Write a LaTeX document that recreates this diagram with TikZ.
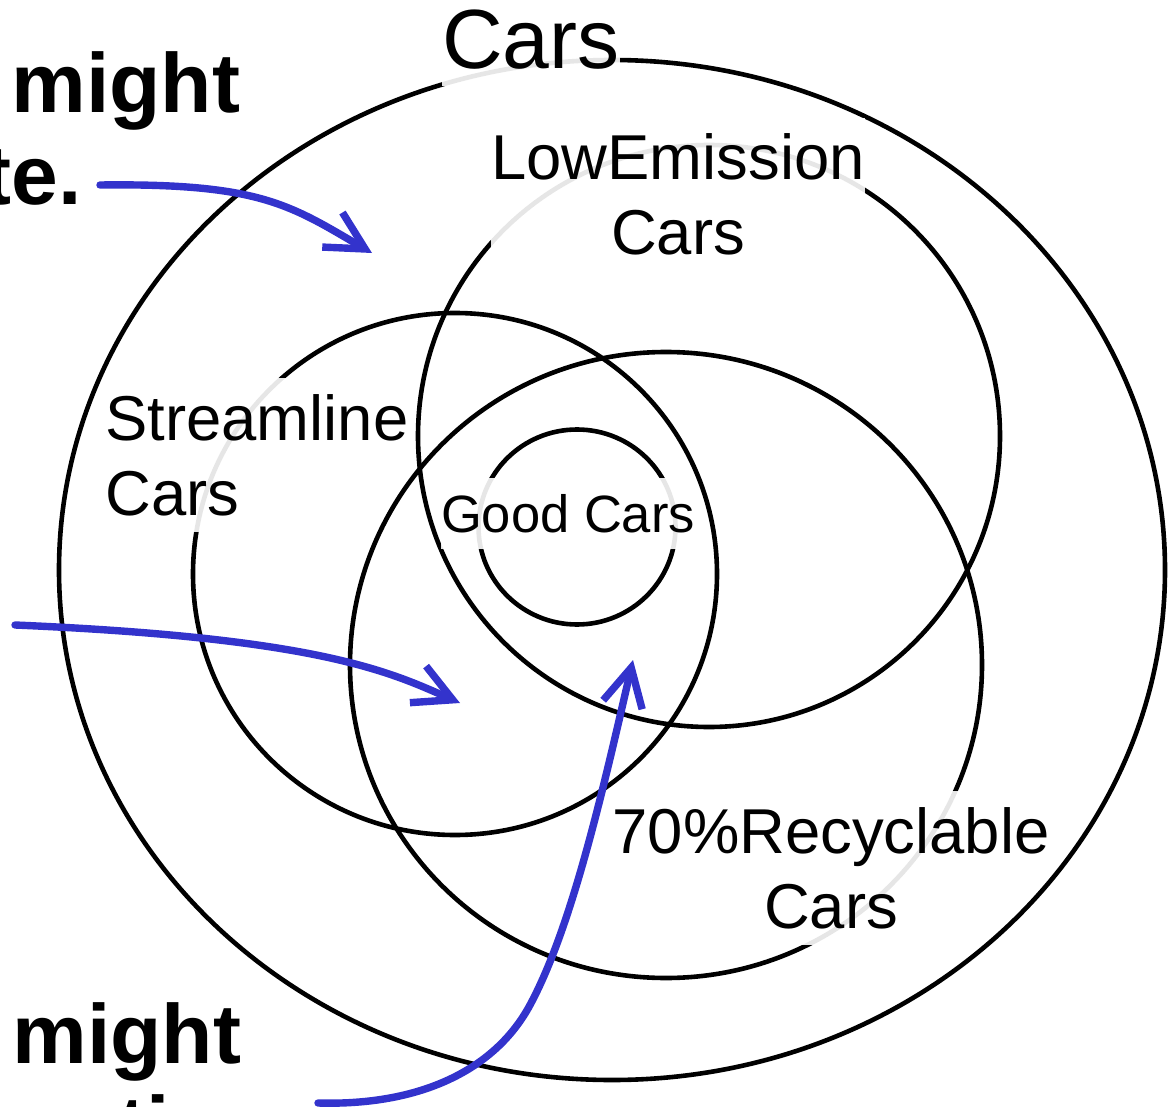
\documentclass[tikz,border=0pt]{standalone}
\usepackage{fontspec}
\setmainfont{Liberation Sans}
\usetikzlibrary{arrows.meta}
\definecolor{pointer}{RGB}{51,51,204}
\begin{document}
\begin{tikzpicture}[x=0.5pt,y=-0.5pt,
  set/.style={draw=black, line width=2.3pt},
  tag/.style={fill=white, fill opacity=0.9, text opacity=1, inner xsep=0pt, inner ysep=8pt},
  big/.style={font=\fontsize{42}{46}\selectfont},
  mid/.style={font=\fontsize{31.7}{37.5}\selectfont},
  small/.style={font=\fontsize{26.25}{30}\selectfont},
  note/.style={font=\fontsize{42}{46}\selectfont\bfseries, inner sep=0pt},
  pointer/.style={draw=pointer, line width=3.7pt, line cap=round,
    -{Straight Barb[length=19pt,width=20pt]}}
]
\useasboundingbox (0,0) rectangle (1173,1107);
\clip (0,0) rectangle (1173,1107);

% set outlines
\coordinate (cars) at (612,570);
\coordinate (low) at (709,436);
\coordinate (stream) at (455,574);
\coordinate (recyc) at (666,665);
\coordinate (good) at (577,527);
\draw[set] (cars) ellipse [x radius=276.5pt, y radius=255pt];
\draw[set] (low) circle [radius=145.5pt];
\draw[set] (stream) ellipse [x radius=131pt, y radius=130.5pt];
\draw[set] (recyc) ellipse [x radius=158pt, y radius=156.5pt];
\draw[set] (good) ellipse [x radius=49.25pt, y radius=48.75pt];

% set names; the two lower boxes are narrower than their longest line,
% which runs past the box (with text width, base = first line)
\node[tag, big, anchor=base] (carsT) at (531,69) {Cars};
\node[tag, mid, align=center, anchor=base] (lowT) at (678,255) {LowEmission\\Cars};
\node[tag, mid, align=left, text width=136pt, anchor=base west] (streamT) at (105,440)
  {Streamline\\Cars};
\node[tag, small, anchor=base] (goodT) at (568,532) {Good Cars};
\node[tag, mid, align=center, text width=145pt, anchor=base] (recycT) at (831,853)
  {\makebox[\hsize]{70\%Recyclable}\\Cars};

% side notes
\node[note, anchor=base west] (n1) at (11,113) {might};
\node[note, anchor=base west] (n2) at (-17,205) {te.};
\node[note, anchor=base west] (n3) at (12,1063) {might};
\node[note, anchor=base west] (n4) at (118,1155) {ti};

% pointers
\coordinate (s1) at (100,185);
\coordinate (t1) at (372,253);
\coordinate (s2) at (15,625);
\coordinate (t2) at (460,703);
\coordinate (s3) at (318,1103);
\coordinate (k3) at (530,1005);
\coordinate (t3) at (633,660);
\draw[pointer] (s1) .. controls (260,183) and (290,205) .. (t1);
\draw[pointer] (s2) .. controls (320,638) and (390,672) .. (t2);
\draw[pointer] (s3) .. controls (420,1106) and (495,1070) .. (k3)
  .. controls (572,927) and (603,790) .. (t3);
\end{tikzpicture}
\end{document}
